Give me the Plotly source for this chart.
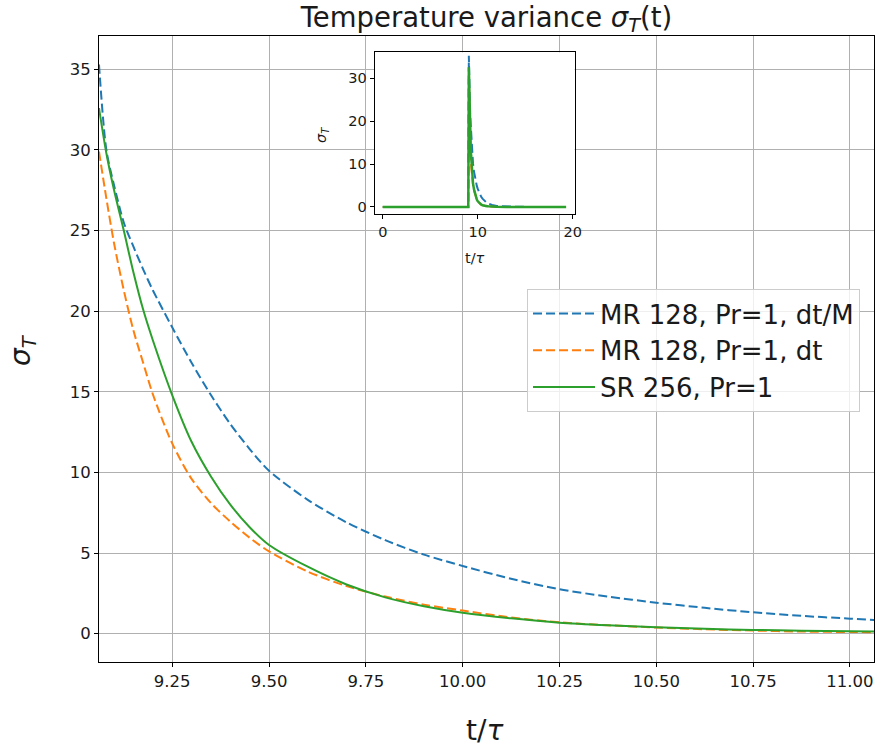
import plotly.graph_objects as go

# ---- data ----
t = [0, 9.0, 9.061, 9.08, 9.10, 9.125, 9.15, 9.175, 9.2, 9.25, 9.3, 9.35, 9.4, 9.45, 9.5,
     9.6, 9.7, 9.8, 9.9, 10.0, 10.125, 10.25, 10.375, 10.5, 10.625, 10.75, 10.875, 11.0,
     11.1, 11.5, 12, 13, 14, 16, 19.3]

mr_dtM = [0, 0, 35.3, 30.0, 27.8, 25.5, 24.0, 22.6, 21.3, 19.0, 16.8, 14.8, 13.0, 11.45, 10.1,
          8.3, 6.9, 5.8, 4.9, 4.2, 3.4, 2.75, 2.3, 1.92, 1.6, 1.32, 1.1, 0.93,
          0.8, 0.45, 0.22, 0.06, 0.02, 0, 0]

mr_dt = [0, 0, 29.9, 27.0, 24.2, 21.3, 18.8, 16.8, 14.85, 11.8, 9.6, 8.1, 6.95, 5.95, 5.1,
         3.85, 2.95, 2.3, 1.8, 1.43, 1.0, 0.7, 0.52, 0.38, 0.27, 0.19, 0.13, 0.10,
         0.08, 0.03, 0.01, 0, 0, 0, 0]

sr256 = [0, 0, 32.6, 29.8, 27.5, 25.0, 22.4, 20.1, 18.2, 14.8, 11.9, 9.75, 8.0, 6.6, 5.5,
         4.15, 3.05, 2.25, 1.7, 1.3, 0.95, 0.68, 0.52, 0.40, 0.30, 0.23, 0.18, 0.15,
         0.13, 0.06, 0.02, 0, 0, 0, 0]

series_names = ["MR 128, Pr=1, dt/M", "MR 128, Pr=1, dt", "SR 256, Pr=1"]
series_vals = [mr_dtM, mr_dt, sr256]
colors = ["#1f77b4", "#ff7f0e", "#2ca02c"]
dashes = ["9px,4px", "9px,4px", "solid"]

main_xticks = [9.25, 9.50, 9.75, 10.00, 10.25, 10.50, 10.75, 11.00]
main_yticks = [0, 5, 10, 15, 20, 25, 30, 35]
inset_xticks = [0, 10, 20]
inset_yticks = [0, 10, 20, 30]

FONT = "DejaVu Sans"
TXT = "#1a1a1a"

# main view shows the decay part (from the peak onwards)
i0 = t.index(9.061)

fig = go.Figure()
for name, vals, c, d in zip(series_names, series_vals, colors, dashes):
    fig.add_trace(go.Scatter(x=t[i0:], y=vals[i0:], mode="lines", name=name,
                             line=dict(color=c, width=2, dash=d, shape="spline", smoothing=0.8),
                             xaxis="x", yaxis="y", showlegend=True))
for name, vals, c, d in zip(series_names, series_vals, colors, dashes):
    fig.add_trace(go.Scatter(x=t, y=vals, mode="lines", name=name,
                             line=dict(color=c, width=2.5 if c == "#2ca02c" else 2, dash=d),
                             xaxis="x2", yaxis="y2", showlegend=False))

axis_common = dict(showline=True, mirror=True, linecolor="black", linewidth=1,
                   ticks="outside", ticklen=4, tickwidth=1, tickcolor="black",
                   zeroline=False, automargin=False)

fig.update_layout(
    width=875, height=751,
    margin=dict(l=99, r=1, t=36, b=89, autoexpand=False),
    paper_bgcolor="white", plot_bgcolor="white",
    font=dict(family=FONT, color=TXT),
    xaxis=dict(domain=[0, 1], range=[9.061, 11.062], tickvals=main_xticks,
               ticktext=[f"{v:.2f}" for v in main_xticks],
               showgrid=True, gridcolor="#b0b0b0", gridwidth=1,
               tickfont=dict(size=16.5, family=FONT, color=TXT), **axis_common),
    yaxis=dict(domain=[0, 1], range=[-1.76, 37.07], tickvals=main_yticks,
               ticktext=[str(v) for v in main_yticks],
               showgrid=True, gridcolor="#b0b0b0", gridwidth=1,
               tickfont=dict(size=16.5, family=FONT, color=TXT), **axis_common),
    xaxis2=dict(domain=[0.3557, 0.6138], anchor="y2", range=[-0.85, 20.2],
                tickvals=inset_xticks, ticktext=[str(v) for v in inset_xticks],
                showgrid=False, tickfont=dict(size=14.5, family=FONT, color=TXT),
                **axis_common),
    yaxis2=dict(domain=[0.7152, 0.974], anchor="x2", range=[-1.72, 36.1],
                tickvals=inset_yticks, ticktext=[str(v) for v in inset_yticks],
                showgrid=False, tickfont=dict(size=14.5, family=FONT, color=TXT),
                **axis_common),
    legend=dict(x=(860 - 99) / 775, y=1 - (289 - 36) / 626, xanchor="right", yanchor="top",
                bgcolor="rgba(255,255,255,0.8)", bordercolor="#cccccc", borderwidth=1,
                font=dict(size=26, family=FONT, color=TXT),
                itemwidth=62, tracegroupgap=0),
    showlegend=True,
    title=dict(text="Temperature variance <i>σ<sub>T</sub></i>(t)",
               x=0.5, xref="paper", xanchor="center",
               y=1 - 17 / 751, yref="container", yanchor="middle",
               font=dict(size=27.5, family=FONT, color=TXT)),
    annotations=[
        dict(text="t/<i>τ</i>", xref="paper", yref="paper", x=(484 - 99) / 775, y=0,
             yshift=-68, showarrow=False, xanchor="center", yanchor="middle",
             font=dict(size=28, family=FONT, color=TXT)),
        dict(text="<i>σ<sub>T</sub></i>", xref="paper", yref="paper", x=0, y=1 - (350 - 36) / 626,
             xshift=-77, showarrow=False, xanchor="center", yanchor="middle",
             textangle=-90, font=dict(size=28, family=FONT, color=TXT)),
        dict(text="t/<i>τ</i>", xref="paper", yref="paper", x=(475 - 99) / 775,
             y=1 - (258 - 36) / 626, showarrow=False, xanchor="center", yanchor="middle",
             font=dict(size=14.5, family=FONT, color=TXT)),
        dict(text="<i>σ<sub>T</sub></i>", xref="paper", yref="paper", x=(322 - 99) / 775,
             y=1 - (135 - 36) / 626, showarrow=False, xanchor="center", yanchor="middle",
             textangle=-90, font=dict(size=14.5, family=FONT, color=TXT)),
    ],
)

fig.write_html("out.html",
               config={"displayModeBar": False},
               post_script="document.body.style.margin='0';document.body.style.overflow='hidden';")
